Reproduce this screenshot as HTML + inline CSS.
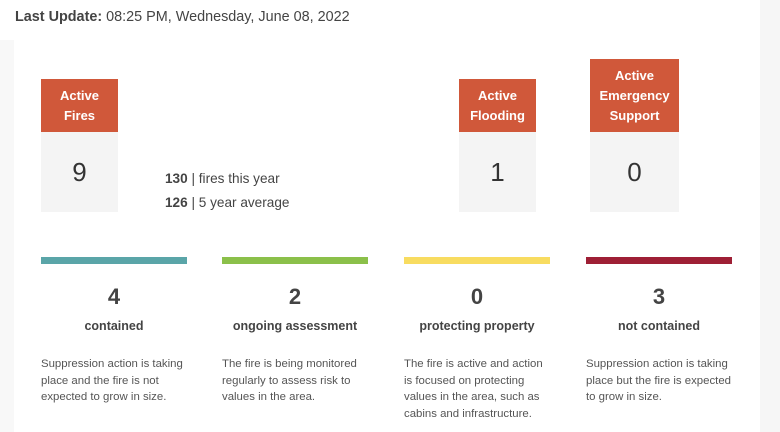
<!DOCTYPE html>
<html><head><style>
body{margin:0;width:780px;height:432px;background:#fff;position:relative;overflow:hidden;font-family:"Liberation Sans",Arial,sans-serif;color:#333}
.a{position:absolute}
.hd{background:#d0583a;color:#fff;font-weight:bold;font-size:13px;line-height:20px;text-align:center;display:flex;align-items:center;justify-content:center}
.bd{background:#f4f4f4;color:#333;font-size:26px;text-align:center}
.bar{height:7px;top:257px;width:146px}
.num{top:284px;width:146px;text-align:center;font-weight:bold;font-size:22px;color:#444}
.lbl{top:319px;width:146px;text-align:center;font-weight:bold;font-size:12.5px;color:#444;white-space:nowrap}
.ds{top:356px;width:146px;font-size:11.4px;line-height:16.5px;color:#555}
</style></head><body>
<div class="a" style="left:0;top:40px;width:14px;height:392px;background:#f8f8f8"></div>
<div class="a" style="left:760px;top:0;width:20px;height:432px;background:#f6f6f6"></div>
<div class="a" style="left:15px;top:9px;font-size:14.4px;color:#444;white-space:nowrap"><b>Last Update:</b> 08:25 PM, Wednesday, June 08, 2022</div>

<div class="a hd" style="left:41px;top:79px;width:77px;height:53px">Active<br>Fires</div>
<div class="a bd" style="left:41px;top:132px;width:77px;height:80px;line-height:80px">9</div>
<div class="a" style="left:165px;top:171px;font-size:13.6px;color:#444;white-space:nowrap"><b>130</b> | fires this year</div>
<div class="a" style="left:165px;top:195px;font-size:13.6px;color:#444;white-space:nowrap"><b>126</b> | 5 year average</div>

<div class="a hd" style="left:459px;top:79px;width:77px;height:53px">Active<br>Flooding</div>
<div class="a bd" style="left:459px;top:132px;width:77px;height:80px;line-height:80px">1</div>
<div class="a hd" style="left:590px;top:59px;width:89px;height:73px">Active<br>Emergency<br>Support</div>
<div class="a bd" style="left:590px;top:132px;width:89px;height:80px;line-height:80px">0</div>

<div class="a bar" style="left:41px;background:#5aa5a8"></div>
<div class="a bar" style="left:222px;background:#8bc04a"></div>
<div class="a bar" style="left:404px;background:#f8dc60"></div>
<div class="a bar" style="left:586px;background:#9e1f35"></div>

<div class="a num" style="left:41px">4</div>
<div class="a num" style="left:222px">2</div>
<div class="a num" style="left:404px">0</div>
<div class="a num" style="left:586px">3</div>

<div class="a lbl" style="left:41px">contained</div>
<div class="a lbl" style="left:222px">ongoing assessment</div>
<div class="a lbl" style="left:404px">protecting property</div>
<div class="a lbl" style="left:586px">not contained</div>

<div class="a ds" style="left:41px">Suppression action is taking place and the fire is not expected to grow in size.</div>
<div class="a ds" style="left:222px">The fire is being monitored regularly to assess risk to values in the area.</div>
<div class="a ds" style="left:404px">The fire is active and action<br>is focused on protecting values in the area, such as cabins and infrastructure.</div>
<div class="a ds" style="left:586px;width:150px">Suppression action is taking place but the fire is expected to grow in size.</div>
</body></html>
